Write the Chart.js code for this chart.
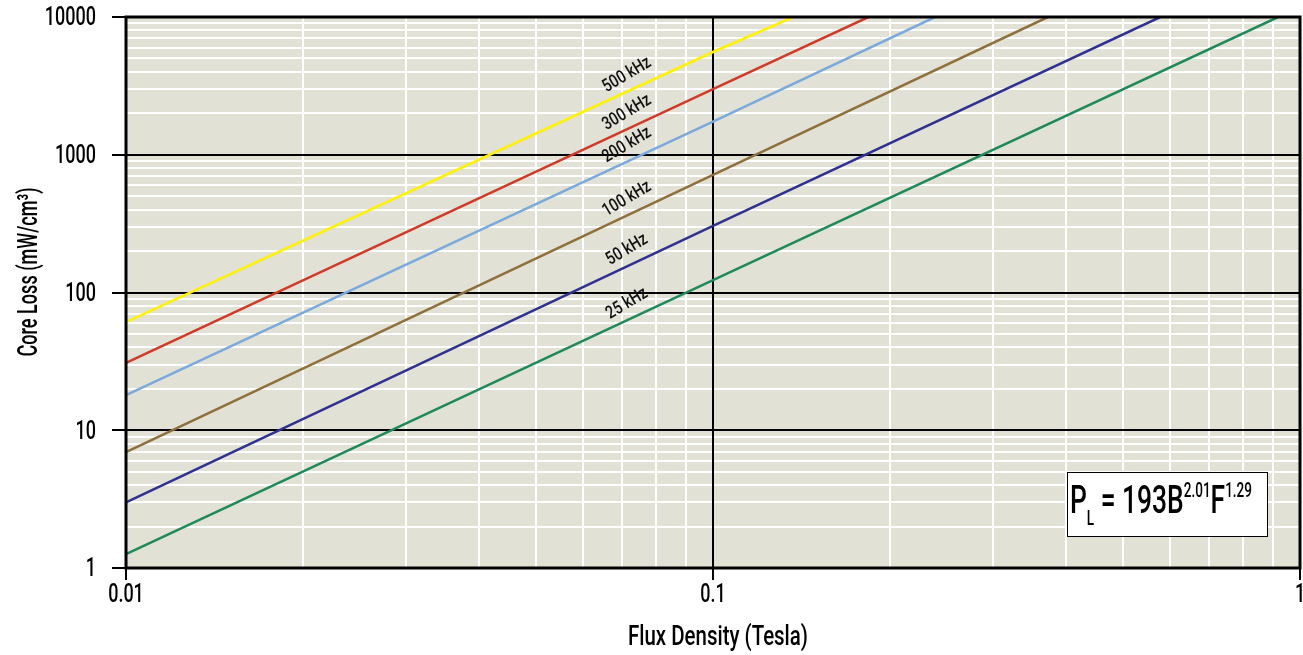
<!DOCTYPE html>
<html>
<head>
<meta charset="utf-8">
<script src="https://cdn.jsdelivr.net/npm/chart.js@4/dist/chart.umd.min.js"></script>
<style>
  html, body { margin: 0; padding: 0; background: #fff; }
  #wrap { width: 1303px; height: 655px; }
</style>
</head>
<body>
<div id="wrap"><canvas id="chart" width="1303" height="655"></canvas></div>
<script>
// frequency curves (log-log straight lines)
const freqLabels = ['500 kHz', '300 kHz', '200 kHz', '100 kHz', '50 kHz', '25 kHz'];
const lineColors = ['#fff200', '#d13a27', '#7aaadc', '#8f6f3a', '#2e3192', '#1e8a5a'];
const lossAtB001 = [61, 30.8, 18, 6.95, 3.0, 1.26];     // mW/cm3 at 0.01 T
const lossAtB01 = [5570, 3000, 1740, 713, 305, 123];    // mW/cm3 at 0.1 T
const fluxAtTop = [0.137, 0.184, 0.239, 0.372, 0.578, 0.918]; // T where curve hits 10000
const topLoss = 10000;

const xTickLabels = ['0.01', '0.1', '1'];
const yTickLabels = ['1', '10', '100', '1000', '10000'];
const xTitle = 'Flux Density (Tesla)';
const yTitle = 'Core Loss (mW/cm\u00b3)';
const formula = { base: 'P', sub: 'L', mid: ' = 193B', exp1: '2.01', f: 'F', exp2: '1.29' };

const FONT = "Roboto, 'Liberation Sans', sans-serif";

function logTicks(labels) {
  const out = [];
  const decades = labels.map(Number);
  decades.forEach(function (d, i) {
    out.push({ value: d, major: true });
    if (i < decades.length - 1) {
      for (let m = 2; m <= 9; m++) out.push({ value: d * m, major: false });
    }
  });
  return out;
}

// condensed text: draw with a horizontal squeeze
function narrowText(ctx, text, x, y, size, sx, align, baseline) {
  ctx.save();
  ctx.translate(x, y);
  ctx.scale(sx, 1);
  ctx.font = '500 ' + size + 'px ' + FONT;
  ctx.textAlign = align;
  ctx.textBaseline = baseline;
  ctx.fillText(text, 0, 0);
  ctx.restore();
}

function fitScale(ctx, text, size, width) {
  ctx.font = '500 ' + size + 'px ' + FONT;
  return width / ctx.measureText(text).width;
}

const datasets = freqLabels.map(function (name, i) {
  return {
    label: name,
    data: [
      { x: 0.01, y: lossAtB001[i] },
      { x: 0.1, y: lossAtB01[i] },
      { x: fluxAtTop[i], y: topLoss },
    ],
    borderColor: lineColors[i],
    borderWidth: 2.5,
    pointRadius: 0,
    showLine: true,
    fill: false,
  };
});

const frame = {
  id: 'frame',
  beforeDraw(chart) {
    const { ctx, chartArea: a } = chart;
    ctx.save();
    ctx.fillStyle = '#e1e1d5';
    ctx.fillRect(a.left, a.top, a.right - a.left, a.bottom - a.top);
    ctx.restore();
  },
  beforeDatasetsDraw(chart) {
    // black decade lines on top of the white minor grid, with outside tick marks
    const { ctx, chartArea: a, scales } = chart;
    ctx.save();
    ctx.strokeStyle = '#000';
    ctx.lineWidth = 2;
    ctx.beginPath();
    xTickLabels.forEach(function (s) {
      const px = Math.round(scales.x.getPixelForValue(Number(s)));
      ctx.moveTo(px, a.top);
      ctx.lineTo(px, a.bottom + 12);
    });
    yTickLabels.forEach(function (s) {
      const py = Math.round(scales.y.getPixelForValue(Number(s)));
      ctx.moveTo(a.left - 14, py);
      ctx.lineTo(a.right, py);
    });
    ctx.stroke();
    ctx.restore();
  },
  afterDraw(chart) {
    const { ctx, chartArea: a, scales } = chart;
    ctx.save();
    ctx.strokeStyle = '#000';
    ctx.lineWidth = 3;
    ctx.strokeRect(a.left, a.top, a.right - a.left, a.bottom - a.top);
    ctx.fillStyle = '#000';

    // tick labels
    xTickLabels.forEach(function (s) {
      narrowText(ctx, s, scales.x.getPixelForValue(Number(s)), a.bottom + 15, 25, 0.72, 'center', 'top');
    });
    yTickLabels.forEach(function (s) {
      narrowText(ctx, s, a.left - 30, scales.y.getPixelForValue(Number(s)) + 2, 25, 0.72, 'right', 'middle');
    });

    // curve labels, placed above each line at B = 0.0711
    const bx = 0.0711;
    chart.data.datasets.forEach(function (ds) {
      const p0 = ds.data[0], p1 = ds.data[1];
      const t = (Math.log10(bx) - Math.log10(p0.x)) / (Math.log10(p1.x) - Math.log10(p0.x));
      const ly = Math.pow(10, Math.log10(p0.y) + t * (Math.log10(p1.y) - Math.log10(p0.y)));
      const px = scales.x.getPixelForValue(bx);
      const py = scales.y.getPixelForValue(ly);
      ctx.save();
      ctx.translate(px + 1, py - 17);
      ctx.rotate(-31 * Math.PI / 180);
      ctx.fillStyle = '#111';
      narrowText(ctx, ds.label, 0, 0, 18, 0.8, 'center', 'middle');
      ctx.restore();
    });

    // formula box
    const bx0 = 1067, by0 = 472, bw = 200, bh = 64;
    ctx.fillStyle = '#fff';
    ctx.fillRect(bx0, by0, bw, bh);
    ctx.lineWidth = 1;
    ctx.strokeStyle = '#000';
    ctx.strokeRect(bx0 + 0.5, by0 + 0.5, bw, bh);
    const big = '500 39px ' + FONT, small = '500 20px ' + FONT;
    const parts = [
      [formula.base, big, 0], [formula.sub, small, 12], [formula.mid, big, 0],
      [formula.exp1, small, -16], [formula.f, big, 0], [formula.exp2, small, -16],
    ];
    let w = 0;
    parts.forEach(function (p) { ctx.font = p[1]; w += ctx.measureText(p[0]).width; });
    const sx = 182 / w;
    ctx.save();
    ctx.translate(1070, 513);
    ctx.scale(sx, 1);
    ctx.fillStyle = '#000';
    ctx.textBaseline = 'alphabetic';
    let cx = 0;
    parts.forEach(function (p) {
      ctx.font = p[1];
      ctx.fillText(p[0], cx, p[2]);
      cx += ctx.measureText(p[0]).width;
    });
    ctx.restore();

    // axis titles
    ctx.fillStyle = '#000';
    narrowText(ctx, xTitle, 718, 645, 27, fitScale(ctx, xTitle, 27, 180), 'center', 'alphabetic');
    ctx.save();
    ctx.translate(37, 272);
    ctx.rotate(-Math.PI / 2);
    narrowText(ctx, yTitle, 0, 0, 28, fitScale(ctx, yTitle, 28, 169), 'center', 'alphabetic');
    ctx.restore();
    ctx.restore();
  },
};

function zeroPad(scale) {
  scale.paddingTop = 0; scale.paddingBottom = 0; scale.paddingLeft = 0; scale.paddingRight = 0;
}

new Chart(document.getElementById('chart'), {
  type: 'scatter',
  data: { datasets },
  plugins: [frame],
  options: {
    responsive: false,
    animation: false,
    layout: { padding: { top: 17, right: 3, left: 0, bottom: 0 } },
    plugins: { legend: { display: false }, tooltip: { enabled: false } },
    scales: {
      x: {
        type: 'logarithmic',
        min: 0.01,
        max: 1,
        afterBuildTicks(scale) { scale.ticks = logTicks(xTickLabels); },
        afterFit(scale) { scale.height = 87; zeroPad(scale); },
        ticks: { display: false },
        grid: { color: '#ffffff', lineWidth: 2, drawTicks: false },
        border: { display: false },
      },
      y: {
        type: 'logarithmic',
        min: 1,
        max: 10000,
        afterBuildTicks(scale) { scale.ticks = logTicks(yTickLabels); },
        afterFit(scale) { scale.width = 126; zeroPad(scale); },
        ticks: { display: false },
        grid: { color: '#ffffff', lineWidth: 2, drawTicks: false },
        border: { display: false },
      },
    },
  },
});
</script>
</body>
</html>
